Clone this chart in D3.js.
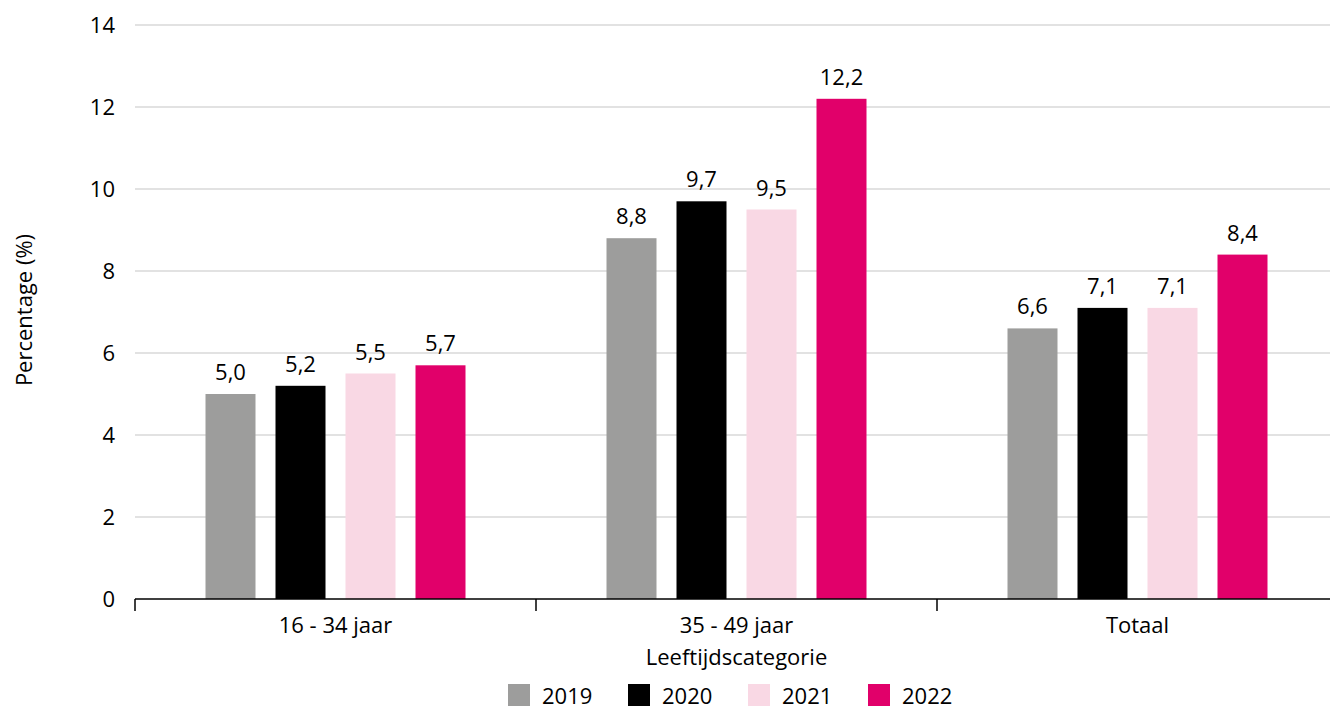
<!DOCTYPE html>
<html>
<head>
<meta charset="utf-8">
<script src="https://cdn.jsdelivr.net/npm/d3@7"></script>
<style>
  body { margin: 0; background: #fff; }
  svg { display: block; font-family: "Open Sans", sans-serif; }
</style>
</head>
<body>
<svg id="chart" width="1330" height="711"></svg>
<script>
const categories = ["16 - 34 jaar", "35 - 49 jaar", "Totaal"];
const years = ["2019", "2020", "2021", "2022"];
const values2019 = [5.0, 8.8, 6.6];
const values2020 = [5.2, 9.7, 7.1];
const values2021 = [5.5, 9.5, 7.1];
const values2022 = [5.7, 12.2, 8.4];
const yTicks = [0, 2, 4, 6, 8, 10, 12, 14];
const colors = ["#9d9d9c", "#000000", "#f9d8e4", "#e1006a"];

const series = [values2019, values2020, values2021, values2022];
const rows = [];
categories.forEach((c, i) => {
    years.forEach((yr, j) => {
        rows.push({cat: c, year: yr, value: series[j][i]});
    });
});

const svg = d3.select("#chart");
const plotLeft = 135, plotRight = 1338, plotTop = 25, plotBottom = 599;
const fontSize = "22px";

const x = d3.scaleBand().domain(categories).range([plotLeft, plotRight]).padding(0);
const y = d3.scaleLinear().domain([0, 14]).range([plotBottom, plotTop]);
const xSub = d3.scaleBand().domain(years).range([0, 280]).paddingInner(20 / 70).paddingOuter(10 / 70);
const color = d3.scaleOrdinal().domain(years).range(colors);
const fmt = v => d3.format(".1f")(v).replace(".", ",");

// gridlines
svg.append("g")
    .selectAll("line")
    .data(yTicks.filter(d => d > 0))
    .join("line")
    .attr("x1", plotLeft)
    .attr("x2", 1330)
    .attr("y1", d => y(d))
    .attr("y2", d => y(d))
    .attr("stroke", "#d9d9d9")
    .attr("stroke-width", 1.5);

// y tick labels
svg.append("g")
    .selectAll("text")
    .data(yTicks)
    .join("text")
    .attr("x", 115)
    .attr("y", d => y(d))
    .attr("dy", "0.36em")
    .attr("text-anchor", "end")
    .style("font-size", fontSize)
    .attr("fill", "#000")
    .text(d => d);

// bars
const groups = svg.append("g")
    .selectAll("g")
    .data(categories)
    .join("g")
    .attr("transform", d => `translate(${x(d) + x.bandwidth() / 2 - 140},0)`);

groups.selectAll("rect")
    .data(c => rows.filter(r => r.cat === c))
    .join("rect")
    .attr("x", d => xSub(d.year))
    .attr("y", d => y(d.value))
    .attr("width", xSub.bandwidth())
    .attr("height", d => y(0) - y(d.value))
    .attr("fill", d => color(d.year));

groups.selectAll("text")
    .data(c => rows.filter(r => r.cat === c))
    .join("text")
    .attr("x", d => xSub(d.year) + xSub.bandwidth() / 2)
    .attr("y", d => y(d.value) - 14)
    .attr("text-anchor", "middle")
    .style("font-size", fontSize)
    .text(d => fmt(d.value));

// x axis
svg.append("line")
    .attr("x1", plotLeft)
    .attr("x2", 1330)
    .attr("y1", plotBottom)
    .attr("y2", plotBottom)
    .attr("stroke", "#000")
    .attr("stroke-width", 1.5);

svg.append("g")
    .selectAll("line")
    .data(categories.concat([null]))
    .join("line")
    .attr("x1", (d, i) => plotLeft + i * x.step())
    .attr("x2", (d, i) => plotLeft + i * x.step())
    .attr("y1", plotBottom)
    .attr("y2", plotBottom + 12)
    .attr("stroke", "#000")
    .attr("stroke-width", 1.5);

svg.append("g")
    .selectAll("text")
    .data(categories)
    .join("text")
    .attr("x", d => x(d) + x.bandwidth() / 2)
    .attr("y", 633)
    .attr("text-anchor", "middle")
    .style("font-size", fontSize)
    .text(d => d);

svg.append("text")
    .attr("x", (plotLeft + plotRight) / 2)
    .attr("y", 665)
    .attr("text-anchor", "middle")
    .style("font-size", fontSize)
    .text("Leeftijdscategorie");

svg.append("text")
    .attr("transform", `translate(32, 310) rotate(-90)`)
    .attr("text-anchor", "middle")
    .style("font-size", fontSize)
    .text("Percentage (%)");

// legend
const legend = svg.append("g")
    .selectAll("g")
    .data(years)
    .join("g")
    .attr("transform", (d, i) => `translate(${508 + i * 120}, 684)`);

legend.append("rect")
    .attr("width", 22)
    .attr("height", 22)
    .attr("fill", d => color(d));

legend.append("text")
    .attr("x", 34)
    .attr("y", 20)
    .style("font-size", fontSize)
    .text(d => d);
</script>
</body>
</html>
